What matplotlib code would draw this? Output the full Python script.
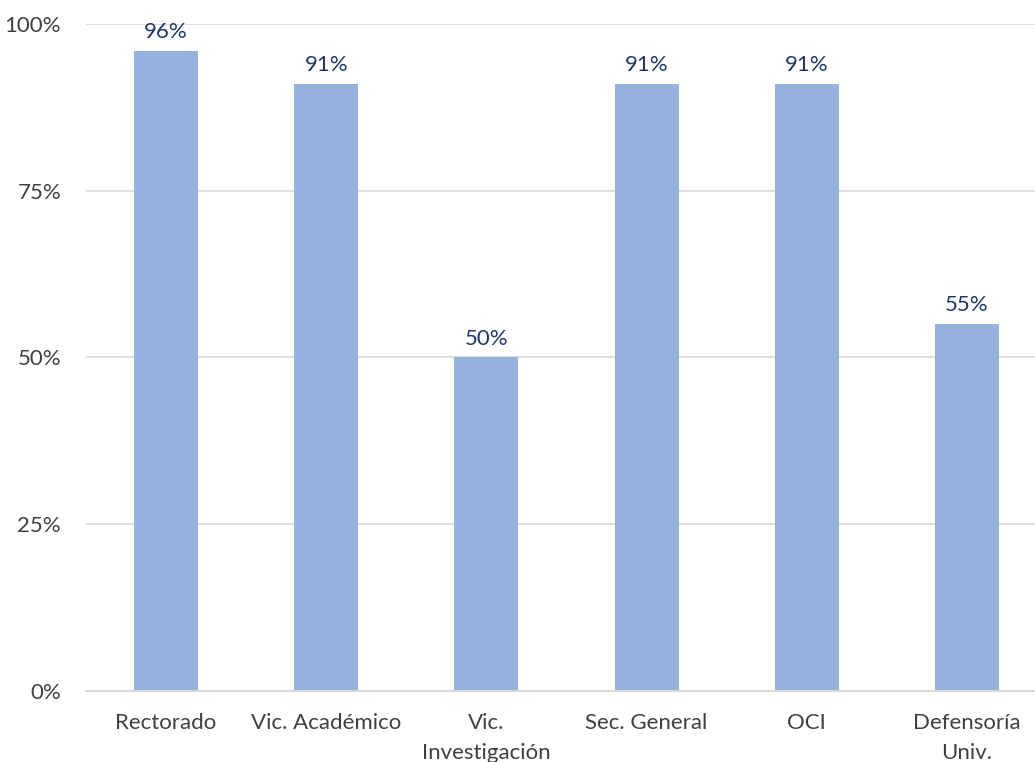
import matplotlib
matplotlib.use('Agg')
import matplotlib.pyplot as plt
from matplotlib.ticker import FuncFormatter

plt.rcParams['font.family'] = ['Lato', 'DejaVu Sans']

## 数据
areas = ['Rectorado', 'Vic. Académico', 'Vic.\nInvestigación', 'Sec. General', 'OCI', 'Defensoría\nUniv.']
pct = [96, 91, 50, 91, 91, 55]

fig = plt.figure(figsize=(10.35, 7.62), dpi=100)
ax = fig.add_axes([0.0831, 0.0932, 1.0116 - 0.0831, 0.9685 - 0.0932])

x = range(len(areas))
bars = ax.bar(x, pct, width=0.4, color='#97B1DF', zorder=3)
for b, v in zip(bars, pct):
    ax.text(b.get_x() + b.get_width() / 2, v + 1.3, f'{v}%', ha='center', va='bottom',
            fontsize=16, color='#1F3864', zorder=4)

ax.set_xlim(-0.5, len(areas) - 0.5)
ax.set_ylim(0, 100)
ax.set_yticks([0, 25, 50, 75, 100])
ax.yaxis.set_major_formatter(FuncFormatter(lambda v, p: f'{int(v)}%'))
ax.set_xticks(list(x))
ax.set_xticklabels(areas, linespacing=1.6)
ax.tick_params(axis='both', length=0, labelsize=16, labelcolor='#404040')
ax.tick_params(axis='y', pad=18)
ax.tick_params(axis='x', pad=16)
ax.grid(axis='y', color='#D9D9D9', linewidth=1.2, zorder=0)
for s in ['top', 'right', 'left']:
    ax.spines[s].set_visible(False)
ax.spines['bottom'].set_color('#D9D9D9')
ax.spines['bottom'].set_linewidth(1.5)
ax.spines['bottom'].set_zorder(4)

plt.savefig('out.png', dpi=100)
